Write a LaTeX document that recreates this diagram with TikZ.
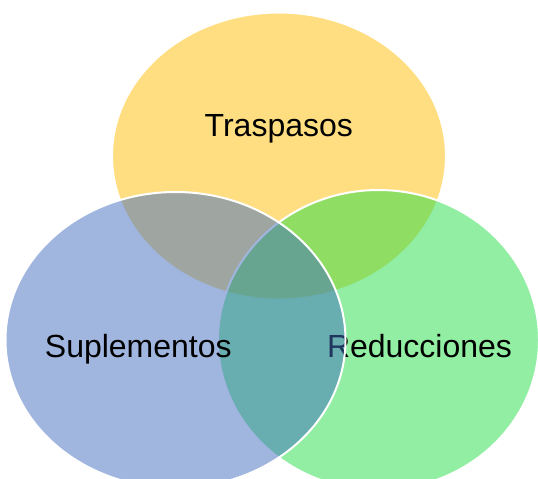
\documentclass[tikz,border=0pt]{standalone}
\usepackage{fontspec}
\setmainfont{Liberation Sans}
\usepackage{tikz}
\definecolor{traspaso}{RGB}{255,190,5}
\definecolor{reduccion}{RGB}{35,221,70}
\definecolor{suplemento}{RGB}{65,109,191}
\tikzset{conjunto/.style={draw=white,line width=2pt,fill opacity=0.5},
  etiqueta/.style={anchor=base,inner sep=0pt,font=\fontsize{32}{38}\selectfont}}

\begin{document}
\begin{tikzpicture}[x=1pt,y=-1pt]
\useasboundingbox (0,0) rectangle (538,479);
\filldraw[conjunto,fill=traspaso] (279,156) ellipse [x radius=167, y radius=143.5];
\node[etiqueta] (tras) at (278.8,136.7) {Traspasos};
\filldraw[conjunto,fill=reduccion] (378.5,340) ellipse [x radius=160.5, y radius=150];
\node[etiqueta] (redu) at (419.5,357) {Reducciones};
\filldraw[conjunto,fill=suplemento] (175.5,340) ellipse [x radius=170, y radius=148];
\node[etiqueta] (supl) at (138.3,357) {Suplementos};


\end{tikzpicture}
\end{document}
